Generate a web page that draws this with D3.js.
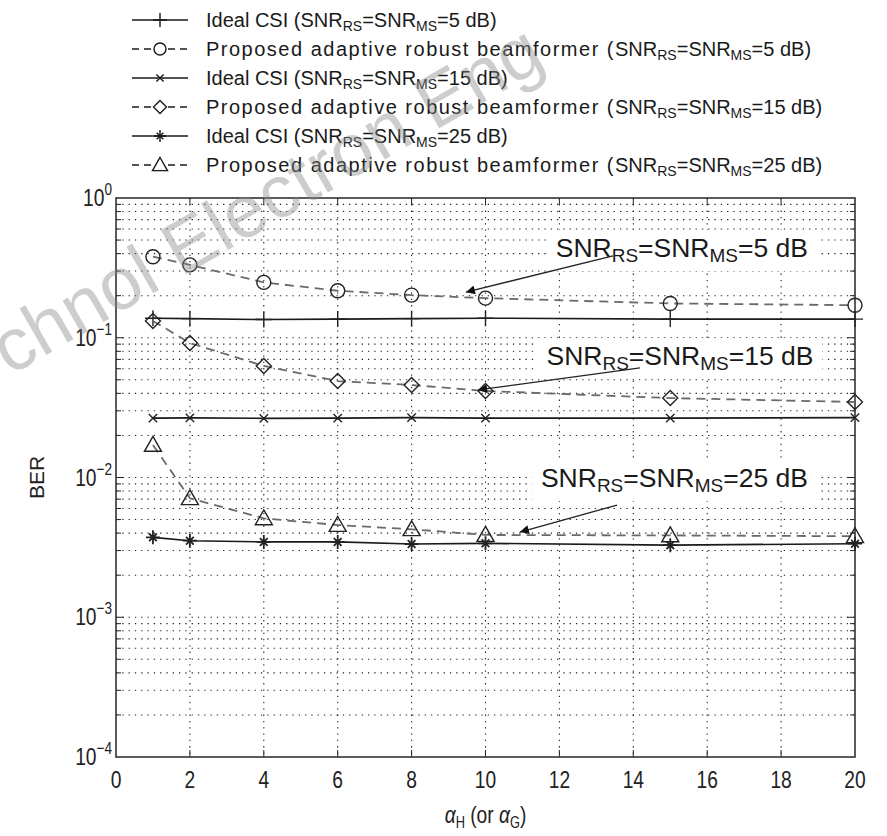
<!DOCTYPE html>
<html>
<head>
<meta charset="utf-8">
<script src="https://cdn.jsdelivr.net/npm/d3@7"></script>
<style>
  body { margin: 0; background: #fff; }
  svg { display: block; font-family: "Liberation Sans", Arial, Helvetica, sans-serif; }
</style>
</head>
<body>
<div id="chart"></div>
<script>
// values
const alphaVals = [1, 2, 4, 6, 8, 10, 15, 20];
const ideal5  = [0.138, 0.137, 0.135, 0.136, 0.137, 0.138, 0.136, 0.136];
const prop5   = [0.38, 0.332, 0.249, 0.217, 0.202, 0.192, 0.176, 0.171];
const ideal15 = [0.0266, 0.0267, 0.0265, 0.0266, 0.0268, 0.0266, 0.0266, 0.0268];
const prop15  = [0.132, 0.0917, 0.0628, 0.049, 0.0459, 0.0416, 0.037, 0.0347];
const ideal25 = [0.00373, 0.00353, 0.00346, 0.00346, 0.00334, 0.00338, 0.00328, 0.00336];
const prop25  = [0.0171, 0.0071, 0.0051, 0.00457, 0.00426, 0.00388, 0.00385, 0.0038];

const xTicks = [0, 2, 4, 6, 8, 10, 12, 14, 16, 18, 20];
const yTicks = [1, 0.1, 0.01, 0.001, 0.0001];
const yExps  = ["0", "\u22121", "\u22122", "\u22123", "\u22124"];

const series = [
    { name: "Ideal CSI", snr: "5",  values: ideal5,  marker: "plus",     dashed: false },
    { name: "Proposed adaptive robust beamformer", snr: "5",  values: prop5,  marker: "circle",   dashed: true },
    { name: "Ideal CSI", snr: "15", values: ideal15, marker: "cross",    dashed: false },
    { name: "Proposed adaptive robust beamformer", snr: "15", values: prop15, marker: "diamond",  dashed: true },
    { name: "Ideal CSI", snr: "25", values: ideal25, marker: "star",     dashed: false },
    { name: "Proposed adaptive robust beamformer", snr: "25", values: prop25, marker: "triangle", dashed: true }
];

// annotation text anchor + arrow (data coordinates)
const notes = [
    { snr: "5",  tx: 11.9,  ty: 0.378,   from: [13.45, 0.385],  to: [9.47, 0.212] },
    { snr: "15", tx: 11.65, ty: 0.0638,  from: [14.18, 0.0608], to: [9.8, 0.0423] },
    { snr: "25", tx: 11.5,  ty: 0.00855, from: [13.56, 0.00635], to: [10.93, 0.00407] }
];

const W = 887, H = 836;
const M = { LEFT: 116, RIGHT: 32, TOP: 198, BOTTOM: 79 };
const NARROW = 0.8;

const svg = d3.select("#chart").append("svg")
    .attr("width", W)
    .attr("height", H);

const defs = svg.append("defs");
defs.append("marker")
    .attr("id", "arrow")
    .attr("viewBox", "0 0 10 10")
    .attr("refX", 10).attr("refY", 5)
    .attr("markerWidth", 15).attr("markerHeight", 9)
    .attr("markerUnits", "userSpaceOnUse")
    .attr("orient", "auto")
    .append("path")
    .attr("d", "M0,0 L10,5 L0,10 Z")
    .attr("fill", "#111");

const x = d3.scaleLinear().domain([0, 20]).range([M.LEFT, W - M.RIGHT]);
const y = d3.scaleLog().domain([1e-4, 1]).range([H - M.BOTTOM, M.TOP]);

const x0 = x.range()[0], x1 = x.range()[1];
const y0 = y.range()[1], y1 = y.range()[0];

// grid
const grid = svg.append("g")
    .attr("stroke", "#222")
    .attr("stroke-width", 1.1)
    .attr("stroke-dasharray", "1.3,5");

grid.selectAll(".vg")
    .data(xTicks.slice(1, -1))
    .join("line")
    .attr("x1", d => x(d)).attr("x2", d => x(d))
    .attr("y1", y0).attr("y2", y1);

const minorVals = [];
for (let e = -4; e < 0; e++) {
    for (let k = 1; k < 10; k++) {
        const v = k * Math.pow(10, e);
        if (k > 1 || e > -4) minorVals.push(v);
    }
}
grid.selectAll(".hg")
    .data(minorVals)
    .join("line")
    .attr("x1", x0).attr("x2", x1)
    .attr("y1", d => y(d)).attr("y2", d => y(d));

const noteG = svg.append("g");

// ticks
const ticks = svg.append("g").attr("stroke", "#222").attr("stroke-width", 1);
minorVals.forEach(v => {
    const major = Math.abs(Math.log10(v) - Math.round(Math.log10(v))) < 1e-9;
    const len = major ? 8 : 5;
    ticks.append("line").attr("x1", x0).attr("x2", x0 + len).attr("y1", y(v)).attr("y2", y(v));
    ticks.append("line").attr("x1", x1).attr("x2", x1 - len).attr("y1", y(v)).attr("y2", y(v));
});
xTicks.slice(1, -1).forEach(t => {
    ticks.append("line").attr("x1", x(t)).attr("x2", x(t)).attr("y1", y1).attr("y2", y1 - 7);
    ticks.append("line").attr("x1", x(t)).attr("x2", x(t)).attr("y1", y0).attr("y2", y0 + 7);
});

// frame
svg.append("rect")
    .attr("x", x0).attr("y", y0)
    .attr("width", x1 - x0).attr("height", y1 - y0)
    .attr("fill", "none")
    .attr("stroke", "#333")
    .attr("stroke-width", 1.6);

// tick labels (narrow, tall digits like the original)
svg.append("g").selectAll("g")
    .data(xTicks)
    .join("g")
    .attr("transform", d => `translate(${x(d)},${y1 + 31}) scale(${NARROW},1)`)
    .append("text")
    .attr("text-anchor", "middle")
    .style("font-size", "24px")
    .attr("fill", "#222")
    .text(d => d);

const yl = svg.append("g").selectAll("g")
    .data(yTicks)
    .join("g")
    .attr("transform", d => `translate(${x0 - 4},${y(d) + 8}) scale(${NARROW},1)`)
    .append("text")
    .attr("text-anchor", "end")
    .style("font-size", "24px")
    .attr("fill", "#222");
yl.append("tspan").text("10");
yl.append("tspan")
    .attr("dy", -11)
    .style("font-size", "17px")
    .text((d, i) => yExps[i]);

// axis titles
svg.append("text")
    .attr("transform", `translate(44, ${(y0 + y1) / 2}) rotate(-90)`)
    .attr("text-anchor", "middle")
    .style("font-size", "21px")
    .attr("fill", "#222")
    .text("BER");

const xt = svg.append("g")
    .attr("transform", `translate(${(x0 + x1) / 2},${H - 13}) scale(${NARROW},1)`)
    .append("text")
    .attr("text-anchor", "middle")
    .style("font-size", "24px")
    .attr("fill", "#222");
xt.append("tspan").style("font-style", "italic").text("\u03b1");
xt.append("tspan").attr("dy", 5).style("font-size", "16px").text("H");
xt.append("tspan").attr("dy", -5).text(" (or ");
xt.append("tspan").style("font-style", "italic").text("\u03b1");
xt.append("tspan").attr("dy", 5).style("font-size", "16px").text("G");
xt.append("tspan").attr("dy", -5).text(")");

// markers
function drawMarker(g, type, s) {
    const p = g.append("path").attr("fill", "none");
    let d = "";
    if (type === "plus") d = `M${-s},0H${s}M0,${-s}V${s}`;
    else if (type === "cross") { const c = s * 0.6; d = `M${-c},${-c}L${c},${c}M${-c},${c}L${c},${-c}`; }
    else if (type === "star") { const c = s * 0.55; d = `M${-s},0H${s}M0,${-s}V${s}M${-c},${-c}L${c},${c}M${-c},${c}L${c},${-c}`; }
    else if (type === "circle") { d = `M${s},0A${s},${s} 0 1,1 ${-s},0A${s},${s} 0 1,1 ${s},0Z`; }
    else if (type === "diamond") d = `M0,${-s}L${s},0L0,${s}L${-s},0Z`;
    else if (type === "triangle") d = `M0,${-s}L${s},${s * 0.75}L${-s},${s * 0.75}Z`;
    p.attr("d", d);
    return p;
}
const markerSize = { plus: 8, cross: 7, star: 7, circle: 7, diamond: 7.5, triangle: 8.5 };

// series
const line = d3.line().x(d => x(d[0])).y(d => y(d[1]));
const plot = svg.append("g");
series.forEach(s => {
    const pts = alphaVals.map((a, i) => [a, s.values[i]]);
    plot.append("path")
        .datum(pts)
        .attr("d", line)
        .attr("fill", "none")
        .attr("stroke", s.dashed ? "#6a6a6a" : "#1a1a1a")
        .attr("stroke-width", s.dashed ? 1.8 : 1.6)
        .attr("stroke-dasharray", s.dashed ? "9,6" : null);
    pts.forEach(p => {
        const g = plot.append("g").attr("transform", `translate(${x(p[0])},${y(p[1])})`);
        drawMarker(g, s.marker, markerSize[s.marker])
            .attr("stroke", "#222")
            .attr("stroke-width", s.marker === "star" ? 1.8 : 1.4);
    });
});

// label with RS / MS subscripts
function snrText(t, prefix, snr, suffix, small, shift, spacing) {
    t.append("tspan").style("letter-spacing", spacing || null).text(prefix);
    t.append("tspan").style("letter-spacing", null).text("SNR");
    t.append("tspan").attr("dy", shift).style("font-size", small + "px").text("RS");
    t.append("tspan").attr("dy", -shift).text("=SNR");
    t.append("tspan").attr("dy", shift).style("font-size", small + "px").text("MS");
    t.append("tspan").attr("dy", -shift).text("=" + snr + " dB" + suffix);
}

// annotations
notes.forEach(n => {
    const t = noteG.append("text")
        .attr("x", x(n.tx)).attr("y", y(n.ty))
        .style("font-size", "26.5px")
        .attr("fill", "#1a1a1a");
    snrText(t, "", n.snr, "", 19, 5);
    const bb = t.node().getBBox();
    noteG.insert("rect", "text")
        .attr("x", bb.x - 9).attr("y", bb.y - 3)
        .attr("width", bb.width + 18).attr("height", bb.height + 8)
        .attr("fill", "#fff");
    noteG.append("line")
        .attr("x1", x(n.from[0])).attr("y1", y(n.from[1]))
        .attr("x2", x(n.to[0])).attr("y2", y(n.to[1]))
        .attr("stroke", "#222")
        .attr("stroke-width", 1.3)
        .attr("marker-end", "url(#arrow)");
});
noteG.raise();

// legend
const legend = svg.append("g");
series.forEach((s, i) => {
    const ly = 20 + i * 29;
    legend.append("line")
        .attr("x1", 132).attr("x2", 188)
        .attr("y1", ly).attr("y2", ly)
        .attr("stroke", "#1a1a1a")
        .attr("stroke-width", 1.5)
        .attr("stroke-dasharray", s.dashed ? "7,5" : null);
    const g = legend.append("g").attr("transform", `translate(160,${ly})`);
    drawMarker(g, s.marker, markerSize[s.marker] - 1)
        .attr("fill", s.dashed ? "#fff" : "none")
        .attr("stroke", "#1a1a1a")
        .attr("stroke-width", 1.4);
    const t = legend.append("text")
        .attr("x", 206).attr("y", ly + 7)
        .style("font-size", "20px")
        .attr("fill", "#1a1a1a");
    snrText(t, s.name + " (", s.snr, ")", 14, 4, s.dashed ? "1.5px" : null);
});

// watermark
svg.append("text")
    .attr("transform", "translate(10,376) rotate(-30)")
    .style("font-size", "74px")
    .attr("fill", "#888")
    .attr("fill-opacity", 0.42)
    .text("chnol Electron Eng");
</script>
</body>
</html>
